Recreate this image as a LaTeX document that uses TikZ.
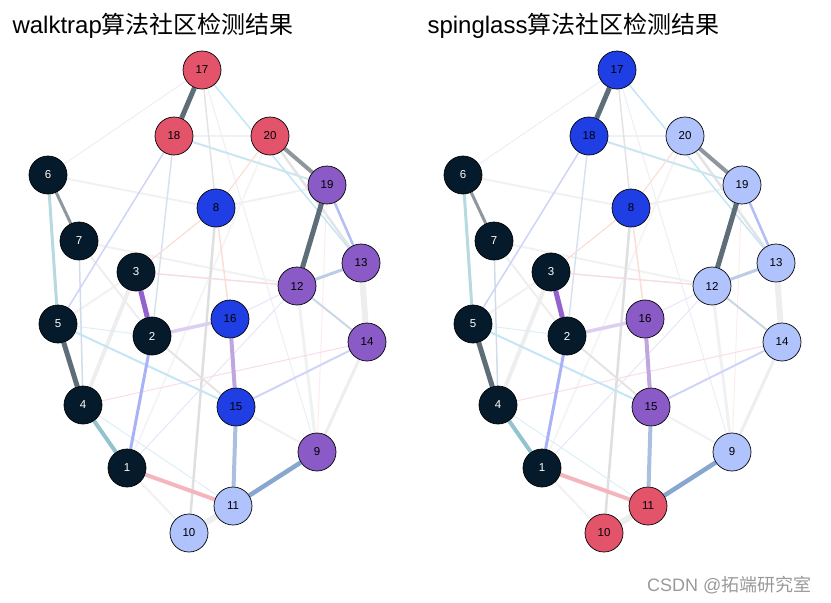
\documentclass[tikz,border=0pt]{standalone}
\usepackage{fontspec}
\setmainfont{Liberation Sans}
\newfontfamily\cjk{Noto Sans CJK SC}
\usepackage{xcolor}
\usetikzlibrary{backgrounds}

% Colores de las comunidades
\definecolor{cOscuro}{HTML}{051B2C}
\definecolor{cRojo}{HTML}{E3546B}
\definecolor{cAzul}{HTML}{1F3FE5}
\definecolor{cMorado}{HTML}{8A5BC6}
\definecolor{cClaro}{HTML}{B0C3FC}

% Colores de las aristas
\definecolor{gPizarra}{HTML}{5E6E79}
\definecolor{gGris}{HTML}{8E979D}
\definecolor{gCelesteV}{HTML}{B6DAE0}
\definecolor{gTurquesa}{HTML}{93C3CF}
\definecolor{gMorado}{HTML}{9462CC}
\definecolor{gLila}{HTML}{DCD0F0}
\definecolor{gLila2}{HTML}{BFA6DF}
\definecolor{gAcero}{HTML}{A9C1DF}
\definecolor{gAcero2}{HTML}{87A6D0}
\definecolor{gAcero3}{HTML}{BCCCE4}
\definecolor{gAcero4}{HTML}{C9D6E6}
\definecolor{gRosa}{HTML}{F5B5BE}
\definecolor{gRosa2}{HTML}{F6DDE3}
\definecolor{gRosa3}{HTML}{F9DDE6}
\definecolor{gNiebla}{HTML}{EEEEEE}
\definecolor{gPervinca}{HTML}{A9B2F7}
\definecolor{gPervinca2}{HTML}{B4BEF5}
\definecolor{gPervinca3}{HTML}{CFD4F9}
\definecolor{gPervinca4}{HTML}{CDD4F8}
\definecolor{gCeleste}{HTML}{C3E6F7}
\definecolor{gCielo}{HTML}{CDE5EE}
\definecolor{gCielo2}{HTML}{DDEFF6}
\definecolor{gPerla}{HTML}{DDDFE1}
\definecolor{gSalmon}{HTML}{FCDED6}
\definecolor{gSalmon2}{HTML}{FDEDEA}
\definecolor{gHumo}{HTML}{F0F1F2}
\definecolor{gHumo2}{HTML}{F5F5F6}
\definecolor{gGris2}{HTML}{E4E4E4}
\definecolor{gLavanda}{HTML}{ECEEF6}
\definecolor{gLavanda2}{HTML}{E6E6FA}
\definecolor{gAzulado}{HTML}{D8E2EE}
\definecolor{gAzulado2}{HTML}{D0DCEA}

\tikzset{
  vertice/.style={circle, draw=black, line width=0.7pt, minimum size=38pt,
    inner sep=0pt, font=\fontsize{11.5}{11.5}\selectfont},
  oscuro/.style={vertice, fill=cOscuro, text=white},
  rojo/.style={vertice, fill=cRojo},
  azul/.style={vertice, fill=cAzul},
  morado/.style={vertice, fill=cMorado},
  claro/.style={vertice, fill=cClaro},
  enlace/.style 2 args={draw=#1, line width=#2pt},
  titulo/.style={anchor=base west, font=\fontsize{24}{24}\selectfont},
}

% Aristas comunes a los dos grafos
\newcommand{\aristas}{%
  \path
  % Aristas tenues
  (17) edge[enlace={gLavanda}{1}] (6)
  (17) edge[enlace={gLavanda}{1}] (9)
  (18) edge[enlace={gHumo}{1.5}] (20)
  (20) edge[enlace={gHumo2}{2}] (1)
  (6) edge[enlace={gHumo}{2}] (8)
  (8) edge[enlace={gHumo}{2}] (19)
  (7) edge[enlace={gHumo}{2}] (12)
  (7) edge[enlace={gNiebla}{2}] (2)
  (5) edge[enlace={gHumo}{2}] (3)
  (1) edge[enlace={gHumo}{2}] (10)
  (15) edge[enlace={gHumo}{2}] (9)
  (12) edge[enlace={gHumo}{3}] (9)
  (9) edge[enlace={gNiebla}{3}] (14)
  (2) edge[enlace={gGris2}{2}] (15)
  (3) edge[enlace={gNiebla}{4}] (4)
  (20) edge[enlace={gGris2}{2.5}] (13)
  (17) edge[enlace={gGris2}{1.5}] (8)
  (8) edge[enlace={gPerla}{2.5}] (10)
  (16) edge[enlace={gLavanda2}{1}] (12)
  (1) edge[enlace={gLavanda2}{1}] (12)
  (9) edge[enlace={gSalmon2}{1}] (19)
  (4) edge[enlace={gRosa3}{1}] (14)
  (4) edge[enlace={gCielo2}{1}] (11)
  (5) edge[enlace={gCielo2}{1}] (2)
  (7) edge[enlace={gAzulado2}{1.5}] (4)
  (18) edge[enlace={gAzulado}{1.5}] (2)
  (18) edge[enlace={gPervinca4}{1.5}] (5)
  (18) edge[enlace={gCielo}{2}] (19)
  (17) edge[enlace={gCeleste}{1.5}] (13)
  (20) edge[enlace={gSalmon}{1.2}] (8)
  (8) edge[enlace={gSalmon}{1.2}] (3)
  (8) edge[enlace={gSalmon}{1.5}] (16)
  (3) edge[enlace={gRosa2}{1.5}] (12)
  (5) edge[enlace={gCeleste}{2}] (15)
  (15) edge[enlace={gPervinca3}{2}] (14)
  (12) edge[enlace={gAcero4}{2}] (14)
  % Aristas fuertes
  (13) edge[enlace={gNiebla}{6}] (14)
  (10) edge[enlace={gNiebla}{6}] (11)
  (19) edge[enlace={gPervinca2}{2.5}] (13)
  (12) edge[enlace={gAcero3}{3}] (13)
  (2) edge[enlace={gPervinca}{3}] (1)
  (1) edge[enlace={gRosa}{4}] (11)
  (11) edge[enlace={gAcero2}{4.5}] (9)
  (15) edge[enlace={gAcero}{4}] (11)
  (16) edge[enlace={gLila2}{4}] (15)
  (2) edge[enlace={gLila}{3.5}] (16)
  (3) edge[enlace={gMorado}{5}] (2)
  (4) edge[enlace={gTurquesa}{4}] (1)
  (5) edge[enlace={gPizarra}{5}] (4)
  (6) edge[enlace={gCelesteV}{3}] (5)
  (6) edge[enlace={gGris}{3}] (7)
  (19) edge[enlace={gPizarra}{5}] (12)
  (20) edge[enlace={gGris}{4}] (19)
  (17) edge[enlace={gPizarra}{5}] (18);
}

\begin{document}
\begin{tikzpicture}[x=1pt, y=-1pt]
  \useasboundingbox (0,0) rectangle (831,603);

  % Titulos
  \node[titulo] (tituloW) at (9,33) {walktrap{\cjk 算法社区检测结果}};
  \node[titulo] (tituloS) at (424,33) {spinglass{\cjk 算法社区检测结果}};

  % Grafo walktrap
  \begin{scope}[name prefix=w-]
    \node[rojo] (17) at (202,70) {17};
    \node[rojo] (18) at (174,136) {18};
    \node[rojo] (20) at (270,136) {20};
    \node[oscuro] (6) at (48,175) {6};
    \node[morado] (19) at (327,185) {19};
    \node[azul] (8) at (216,208) {8};
    \node[oscuro] (7) at (79,241) {7};
    \node[oscuro] (3) at (136,272) {3};
    \node[morado] (13) at (361,263) {13};
    \node[morado] (12) at (297,286) {12};
    \node[azul] (16) at (230,319) {16};
    \node[oscuro] (5) at (58,324) {5};
    \node[oscuro] (2) at (152,336) {2};
    \node[morado] (14) at (367,342) {14};
    \node[oscuro] (4) at (83,405) {4};
    \node[azul] (15) at (236,407) {15};
    \node[morado] (9) at (317,452) {9};
    \node[oscuro] (1) at (127,468) {1};
    \node[claro] (11) at (233,506) {11};
    \node[claro] (10) at (189,533) {10};
    \begin{scope}[on background layer]
      \aristas
    \end{scope}
  \end{scope}

  % Grafo spinglass
  \begin{scope}[xshift=415pt, name prefix=s-]
    \node[azul] (17) at (202,70) {17};
    \node[azul] (18) at (174,136) {18};
    \node[claro] (20) at (270,136) {20};
    \node[oscuro] (6) at (48,175) {6};
    \node[claro] (19) at (327,185) {19};
    \node[azul] (8) at (216,208) {8};
    \node[oscuro] (7) at (79,241) {7};
    \node[oscuro] (3) at (136,272) {3};
    \node[claro] (13) at (361,263) {13};
    \node[claro] (12) at (297,286) {12};
    \node[morado] (16) at (230,319) {16};
    \node[oscuro] (5) at (58,324) {5};
    \node[oscuro] (2) at (152,336) {2};
    \node[claro] (14) at (367,342) {14};
    \node[oscuro] (4) at (83,405) {4};
    \node[morado] (15) at (236,407) {15};
    \node[claro] (9) at (317,452) {9};
    \node[oscuro] (1) at (127,468) {1};
    \node[rojo] (11) at (233,506) {11};
    \node[rojo] (10) at (189,533) {10};
    \begin{scope}[on background layer]
      \aristas
    \end{scope}
  \end{scope}

  % Marca de agua
  \node[anchor=base east, text=black!40, font=\fontsize{18}{18}\selectfont]
    (marca) at (815,591) {CSDN @{\cjk 拓端研究室}};
\end{tikzpicture}
\end{document}
